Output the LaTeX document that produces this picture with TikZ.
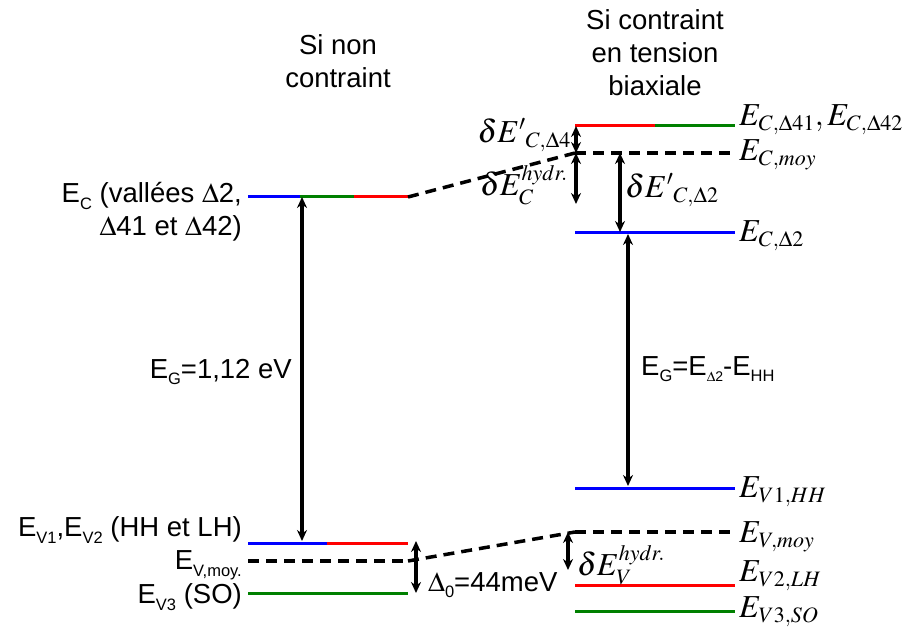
\documentclass[tikz,border=0pt]{standalone}
\usepackage{mathptmx}
\usepackage[no-math]{fontspec}
\setmainfont{Liberation Sans}
\usetikzlibrary{arrows.meta}
\DeclareMathSizes{32}{32}{22}{16}
\definecolor{lblue}{RGB}{0,0,255}
\definecolor{lred}{RGB}{255,0,0}
\definecolor{lgreen}{RGB}{0,128,0}
\newcommand\sbs[1]{\raisebox{-0.45ex}{\fontsize{16.5}{17}\selectfont #1}}
\begin{document}
\begin{tikzpicture}[x=1pt,y=-1pt,
  lev/.style={line width=3pt},
  dsh/.style={line width=3.5pt,dash pattern=on 11pt off 7pt},
  dbl/.style={line width=3.5pt,{Stealth[length=11pt,width=10pt]}-{Stealth[length=11pt,width=10pt]}},
  atxt/.style={font=\fontsize{27.5}{33}\selectfont, inner sep=0pt},
  mtxt/.style={font=\fontsize{32}{34}\selectfont, inner sep=0pt}]
\useasboundingbox (0,0) rectangle (910,631);
% coordinates left
\coordinate (lc0) at (248,197); \coordinate (lc1) at (300,197); \coordinate (lc2) at (354,197); \coordinate (lc3) at (408,197);
\coordinate (lv0) at (248,543); \coordinate (lv1) at (327,543); \coordinate (lv2) at (408,543);
\coordinate (lm0) at (248,561); \coordinate (lm1) at (408,561);
\coordinate (ls0) at (248,593); \coordinate (ls1) at (408,593);
% coordinates right
\coordinate (r40) at (575,126); \coordinate (r41) at (655,126); \coordinate (r42) at (735,126);
\coordinate (rcm0) at (575,153); \coordinate (rcm1) at (735,153);
\coordinate (rc20) at (575,232); \coordinate (rc21) at (735,232);
\coordinate (rhh0) at (575,488); \coordinate (rhh1) at (735,488);
\coordinate (rvm0) at (575,532); \coordinate (rvm1) at (735,532);
\coordinate (rlh0) at (575,585); \coordinate (rlh1) at (735,585);
\coordinate (rso0) at (575,611); \coordinate (rso1) at (735,611);
% left levels
\draw[lev,lblue] (lc0) -- (lc1); \draw[lev,lgreen] (lc1) -- (lc2); \draw[lev,lred] (lc2) -- (lc3);
\draw[lev,lblue] (lv0) -- (lv1); \draw[lev,lred] (lv1) -- (lv2);
\draw[dsh] (lm0) -- (lm1);
\draw[lev,lgreen] (ls0) -- (ls1);
% right levels
\draw[lev,lred] (r40) -- (r41); \draw[lev,lgreen] (r41) -- (r42);
\draw[dsh] (rcm0) -- (rcm1);
\draw[lev,lblue] (rc20) -- (rc21);
\draw[lev,lblue] (rhh0) -- (rhh1);
\draw[dsh] (rvm0) -- (rvm1);
\draw[lev,lred] (rlh0) -- (rlh1);
\draw[lev,lgreen] (rso0) -- (rso1);
% connecting dashed
\draw[dsh] (lc3) -- (rcm0);
\draw[dsh] (lm1) -- (rvm0);
% arrows
\coordinate (ga) at (302,197); \coordinate (gb) at (302,541);
\draw[dbl] (ga) -- (gb);
\coordinate (da) at (416,541); \coordinate (db) at (416,593);
\draw[dbl] (da) -- (db);
\coordinate (c4a) at (576,126); \coordinate (c4b) at (576,153);
\draw[dbl] (c4a) -- (c4b);
\coordinate (cha) at (576,153); \coordinate (chb) at (576,204);
\draw[dbl] (cha) -- (chb);
\coordinate (c2a) at (620,153); \coordinate (c2b) at (620,232);
\draw[dbl] (c2a) -- (c2b);
\coordinate (gra) at (628,234); \coordinate (grb) at (628,486);
\draw[dbl] (gra) -- (grb);
\coordinate (vha) at (568,532); \coordinate (vhb) at (568,570);
\draw[dbl] (vha) -- (vhb);
% titles
\node[atxt,align=center] (t1) at (338,61) {Si non\\contraint};
\node[atxt,align=center] (t2) at (655,53) {Si contraint\\en tension\\biaxiale};
% left labels
\node[atxt,align=right,anchor=east] (lec) at (242,212) {E\sbs{C} (vallées $\Delta$2,\\$\Delta$41 et $\Delta$42)};
\node[atxt,anchor=east] (lev1) at (242,530) {E\sbs{V1},E\sbs{V2} (HH et LH)};
\node[atxt,anchor=east] (levm) at (242,565) {E\sbs{V,moy.}};
\node[atxt,anchor=east] (lev3) at (242,597) {E\sbs{V3} (SO)};
\node[atxt,anchor=east] (leg) at (292,372) {E\sbs{G}=1,12 eV};
\node[atxt,anchor=west] (ld0) at (428,585) {$\Delta$\sbs{0}=44meV};
\node[atxt,anchor=west] (reg) at (641,369) {E\sbs{G}=E\sbs{\fontsize{14}{14}\selectfont$\Delta$2}-E\sbs{HH}};
% right labels (math)
\node[mtxt,anchor=west] (rl1) at (739,120) {$E_{C,\Delta 41},E_{C,\Delta 42}$};
\node[mtxt,anchor=west] (rl2) at (739,155) {$E_{C,moy}$};
\node[mtxt,anchor=west] (rl3) at (739,236) {$E_{C,\Delta 2}$};
\node[mtxt,anchor=west] (rl4) at (739,492) {$E_{V1,HH}$};
\node[mtxt,anchor=west] (rl5) at (739,537) {$E_{V,moy}$};
\node[mtxt,anchor=west] (rl6) at (739,576) {$E_{V2,LH}$};
\node[mtxt,anchor=west] (rl7) at (739,612) {$E_{V3,SO}$};
\node[mtxt,anchor=east] (m1) at (571,135) {$\delta E'{}_{C,\Delta 4}$};
\node[mtxt,anchor=east] (m2) at (568,185) {$\delta E_C^{hydr.}$};
\node[mtxt,anchor=west] (m3) at (625,190) {$\delta E'{}_{C,\Delta 2}$};
\node[mtxt,anchor=west] (m4) at (577,565) {$\delta E_V^{hydr.}$};
\end{tikzpicture}
\end{document}
